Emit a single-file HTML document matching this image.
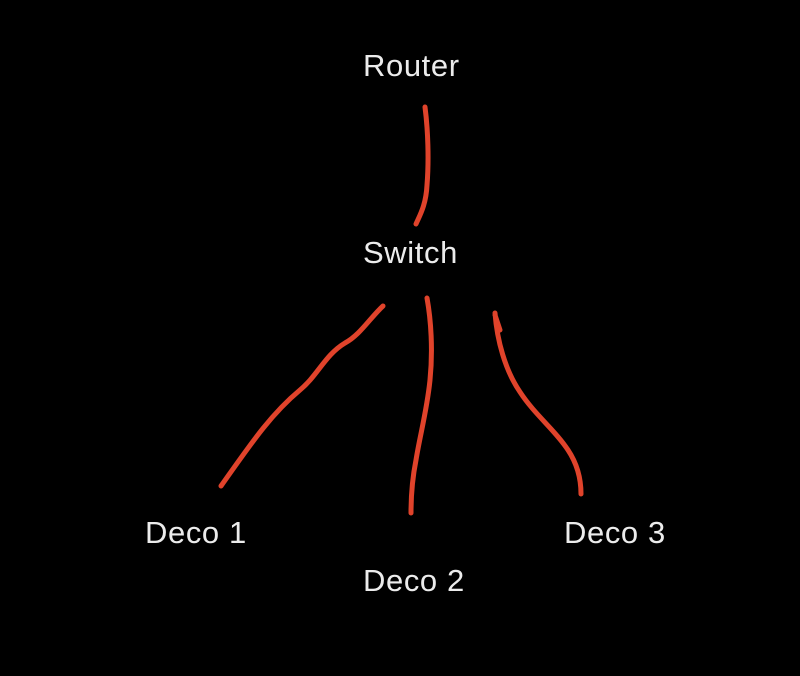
<!DOCTYPE html>
<html><head><style>
html,body{margin:0;padding:0;background:#000;}
body{width:800px;height:676px;position:relative;overflow:hidden;font-family:"Liberation Sans",sans-serif;}
.t{position:absolute;color:#ececec;font-size:31px;line-height:31px;letter-spacing:0.6px;white-space:nowrap;}
svg{position:absolute;left:0;top:0;}
</style></head><body>
<div class="t" style="left:363px;top:50px;">Router</div>
<div class="t" style="left:363px;top:237px;">Switch</div>
<div class="t" style="left:145px;top:517px;">Deco 1</div>
<div class="t" style="left:363px;top:565px;">Deco 2</div>
<div class="t" style="left:564px;top:517px;">Deco 3</div>
<svg width="800" height="676" fill="none" stroke="#e0432b" stroke-width="5" stroke-linecap="round" stroke-linejoin="round">
<path d="M425,107 C428,130 429,160 427,185 C426,205 420,215 416,224"/>
<path d="M383,306 C370,318 360,335 345,343 C325,355 318,375 300,390 C270,415 250,445 221,486"/>
<path d="M427,298 C431,320 433,350 430,380 C427,410 420,435 416,460 C412,480 411,500 411,513"/>
<path d="M495,315 L500,330 M495,313 C497,340 505,370 520,392 C535,415 555,430 568,450 C578,465 581,480 581,494"/>
</svg>
</body></html>
